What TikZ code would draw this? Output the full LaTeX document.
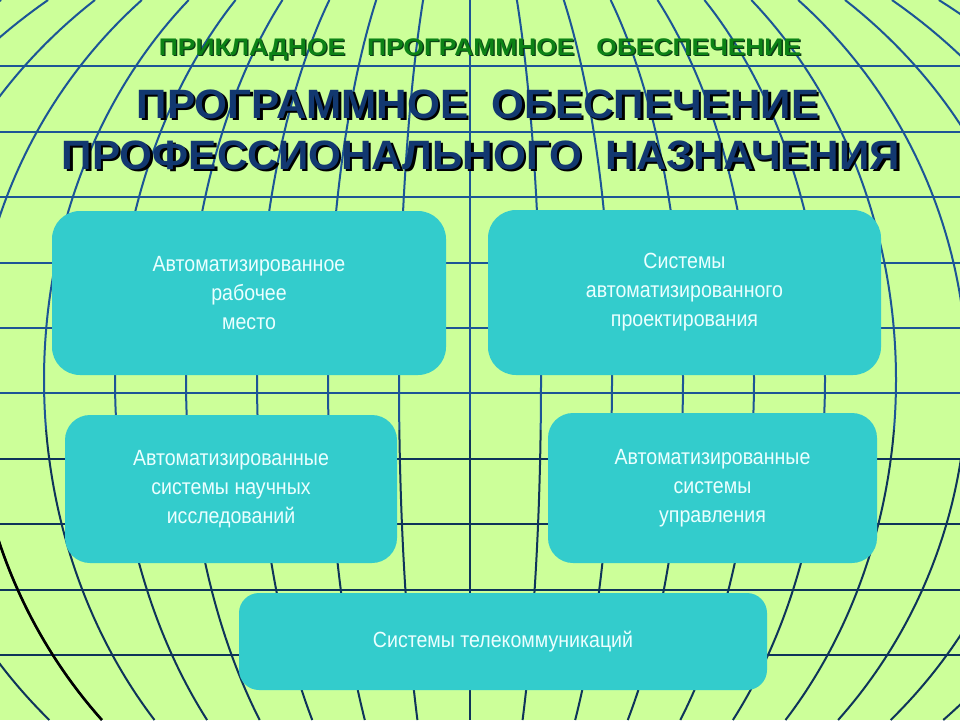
\documentclass[tikz,border=0pt]{standalone}
\usepackage{fontspec}
\setmainfont{Liberation Sans}
\newfontfamily\narrowfont[FakeStretch=0.89]{Liberation Sans}
\newfontfamily\subfont[FakeStretch=1.1]{Liberation Sans Bold}
\newfontfamily\titlefont[FakeStretch=1.03]{Liberation Sans Bold}
\definecolor{bg}{RGB}{204,255,153}
\definecolor{gridblue}{RGB}{28,85,150}
\definecolor{griddark}{RGB}{14,52,90}
\definecolor{boxfill}{RGB}{51,204,204}
\definecolor{boxtext}{RGB}{235,255,255}
\definecolor{titlenavy}{RGB}{18,56,112}
\definecolor{titlegreen}{RGB}{12,130,22}
\definecolor{greenshadow}{RGB}{10,60,20}
\newcommand\shtext[4]{\makebox[0pt][l]{\hspace*{#2}\raisebox{-#2}{\textcolor{#1}{#4}}}\textcolor{#3}{#4}}
\tikzset{
  gridline/.style={gridblue,line width=2pt},
  gridlow/.style={griddark,line width=2pt},
  infobox/.style={fill=boxfill,draw=none,rounded corners=28pt,align=center,
    text=boxtext,inner sep=0pt,font=\narrowfont\fontsize{22}{29}\selectfont},
  bigtitle/.style={anchor=base,font=\titlefont\fontsize{41}{41}\selectfont,inner sep=0pt},
  subtitle/.style={anchor=base,font=\subfont\fontsize{24}{24}\selectfont,inner sep=0pt}
}
\begin{document}
\begin{tikzpicture}[x=1pt,y=-1pt]
\useasboundingbox (0,0) rectangle (960,720);
\fill[bg] (0,0) rectangle (960,720);
\begin{scope}
\clip (0,0) rectangle (960,720);
\foreach \yy in {66,132,197,263,328,393} \draw[gridline] (0,\yy) -- (960,\yy);
\foreach \yy in {459,524,590,655} \draw[gridlow] (0,\yy) -- (960,\yy);
\foreach \k in {-10,...,10} {
  \draw[gridline] plot[domain=0:430,samples=60,variable=\t] ({470+71*\k*sqrt(1-((\t-380)/506)^2)},\t);
  \draw[gridlow] plot[domain=430:720,samples=50,variable=\t] ({470+71*\k*sqrt(1-((\t-380)/506)^2)},\t);
}
\draw[black,line width=2.6pt] plot[domain=440:720,samples=40,variable=\t] ({470-71*7*sqrt(1-((\t-380)/506)^2)},\t);
\end{scope}

% titles
\node[subtitle] (sub) at (480,55) {\shtext{greenshadow}{1.3pt}{titlegreen}{ПРИКЛАДНОЕ\ \ \ ПРОГРАММНОЕ\ \ \ ОБЕСПЕЧЕНИЕ}};
\node[bigtitle] (t1) at (478,118) {\shtext{black}{2.5pt}{titlenavy}{ПРОГРАММНОЕ\ \ ОБЕСПЕЧЕНИЕ}};
\node[bigtitle] (t2) at (481,169) {\shtext{black}{2.5pt}{titlenavy}{ПРОФЕССИОНАЛЬНОГО\ \ НАЗНАЧЕНИЯ}};

% boxes
\node[infobox,minimum width=394pt,minimum height=164pt] (arm) at (249,293) {Автоматизированное\\рабочее\\место};
\node[infobox,minimum width=393pt,minimum height=165pt] (sapr) at (684.5,292.5) {Системы\\автоматизированного\\проектирования};
\node[infobox,minimum width=332pt,minimum height=148pt,rounded corners=25pt] (asni) at (231,489) {Автоматизированные\\системы научных\\исследований};
\node[infobox,minimum width=329pt,minimum height=150pt,rounded corners=25pt] (asu) at (712.5,488) {Автоматизированные\\системы\\управления};
\node[infobox,minimum width=528pt,minimum height=97pt,rounded corners=20pt] (tele) at (503,641.5) {Системы телекоммуникаций};
\end{tikzpicture}
\end{document}
